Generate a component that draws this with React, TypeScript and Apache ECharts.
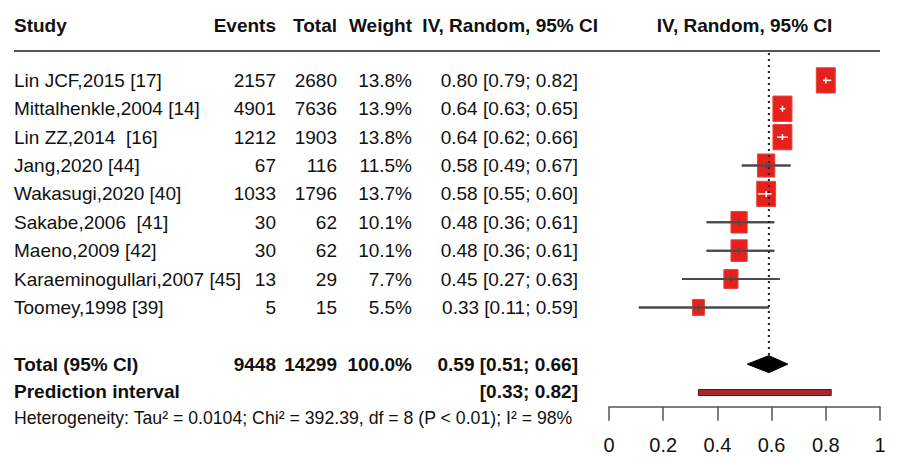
import React, { useEffect, useRef } from "react";
import * as echarts from "echarts";

const studies = [
  "Lin JCF,2015 [17]",
  "Mittalhenkle,2004 [14]",
  "Lin ZZ,2014  [16]",
  "Jang,2020 [44]",
  "Wakasugi,2020 [40]",
  "Sakabe,2006  [41]",
  "Maeno,2009 [42]",
  "Karaeminogullari,2007 [45]",
  "Toomey,1998 [39]",
];
const events = [2157, 4901, 1212, 67, 1033, 30, 30, 13, 5];
const totals = [2680, 7636, 1903, 116, 1796, 62, 62, 29, 15];
const weights = [13.8, 13.9, 13.8, 11.5, 13.7, 10.1, 10.1, 7.7, 5.5];
const estimates = [0.8, 0.64, 0.64, 0.58, 0.58, 0.48, 0.48, 0.45, 0.33];
const lowers = [0.79, 0.63, 0.62, 0.49, 0.55, 0.36, 0.36, 0.27, 0.11];
const uppers = [0.82, 0.65, 0.66, 0.67, 0.6, 0.61, 0.61, 0.63, 0.59];

const pooled = { est: 0.59, lo: 0.51, hi: 0.66, events: 9448, total: 14299, weight: "100.0%" };
const prediction = { lo: 0.33, hi: 0.82 };
const xTicks = [0, 0.2, 0.4, 0.6, 0.8, 1];
const headers = ["Study", "Events", "Total", "Weight", "IV, Random, 95% CI", "IV, Random, 95% CI"];
const heterogeneity = "Heterogeneity: Tau\u00b2 = 0.0104; Chi\u00b2 = 392.39, df = 8 (P < 0.01); I\u00b2 = 98%";

const FONT = "'Liberation Sans', Arial, Helvetica, sans-serif";
const FS = 19;
const TXT = "#111";

const COL_NAME = 14;
const COL_EVENTS = 276;
const COL_TOTAL = 337;
const COL_WEIGHT = 412;
const COL_CI = 578;

const fmt2 = (v: number) => v.toFixed(2);
const ciText = (e: number, l: number, h: number) => `${fmt2(e)} [${fmt2(l)}; ${fmt2(h)}]`;

function txt(x: number, y: number, text: string, align: string, bold = false, size = FS) {
  return {
    type: "text",
    x,
    y,
    style: {
      text,
      fill: TXT,
      fontFamily: FONT,
      fontSize: size,
      fontWeight: bold ? "bold" : "normal",
      align,
      verticalAlign: "middle",
    },
  };
}

export default function App() {
  const ref = useRef<HTMLDivElement>(null);

  useEffect(() => {
    document.body.style.margin = "0";
    if (!ref.current) return;
    const chart = echarts.init(ref.current, null, { renderer: "svg" });

    const studyData = studies.map((_, i) => [estimates[i], i, lowers[i], uppers[i], weights[i]]);

    const option: any = {
      animation: false,
      backgroundColor: "#fff",
      grid: { left: 609, right: 19, top: 52, bottom: 52.3, containLabel: false },
      xAxis: {
        type: "value",
        min: 0,
        max: 1,
        interval: 0.2,
        splitLine: { show: false },
        axisLine: { show: true, onZero: false, lineStyle: { color: "#555", width: 1.5 } },
        axisTick: { show: true, inside: false, length: 14, lineStyle: { color: "#555", width: 1.5 } },
        axisLabel: {
          show: true,
          fontSize: 20,
          color: TXT,
          fontFamily: FONT,
          margin: 28,
          formatter: (v: number) => {
            const t = xTicks.find((k) => Math.abs(k - v) < 1e-9);
            return t === undefined ? "" : String(t);
          },
        },
      },
      yAxis: {
        type: "value",
        inverse: true,
        min: -1,
        max: 11.5,
        show: false,
        splitLine: { show: false },
      },
      graphic: [
        {
          type: "line",
          shape: { x1: 14, y1: 51, x2: 880, y2: 51 },
          style: { stroke: "#555", lineWidth: 2 },
        },
        txt(COL_NAME, 25, headers[0], "left", true),
        txt(COL_EVENTS, 25, headers[1], "right", true),
        txt(COL_TOTAL, 25, headers[2], "right", true),
        txt(COL_WEIGHT, 25, headers[3], "right", true),
        txt(598, 25, headers[4], "right", true),
        txt(744.5, 25, headers[5], "center", true),
        txt(COL_NAME, 418, heterogeneity, "left", false, 17.7),
      ],
      series: [
        {
          type: "custom",
          name: "studies",
          clip: false,
          data: studyData,
          renderItem: (params: any, api: any) => {
            const idx = params.dataIndex;
            const e = api.value(0);
            const i = api.value(1);
            const lo = api.value(2);
            const hi = api.value(3);
            const w = api.value(4);
            const c = api.coord([e, i]);
            const cl = api.coord([lo, i]);
            const ch = api.coord([hi, i]);
            const bw = 5.1 * Math.sqrt(w);
            const bh = 6.8 * Math.sqrt(w);
            const inside = cl[0] >= c[0] - bw / 2 && ch[0] <= c[0] + bw / 2;
            const crossColor = inside ? "#fff" : "#4a4a4a";
            return {
              type: "group",
              children: [
                {
                  type: "line",
                  shape: { x1: cl[0], y1: c[1], x2: ch[0], y2: c[1] },
                  style: { stroke: "#4a4a4a", lineWidth: 2 },
                },
                {
                  type: "rect",
                  shape: { x: c[0] - bw / 2, y: c[1] - bh / 2, width: bw, height: bh },
                  style: { fill: "#e8201b", stroke: "#e5423c", lineWidth: 1 },
                },
                {
                  type: "line",
                  shape: { x1: cl[0], y1: c[1], x2: ch[0], y2: c[1] },
                  style: { stroke: crossColor, lineWidth: inside ? 1.5 : 2 },
                },
                {
                  type: "line",
                  shape: { x1: c[0], y1: c[1] - 3, x2: c[0], y2: c[1] + 3 },
                  style: { stroke: crossColor, lineWidth: 1.5 },
                },
                txt(COL_NAME, c[1], studies[idx], "left"),
                txt(COL_EVENTS, c[1], String(events[idx]), "right"),
                txt(COL_TOTAL, c[1], String(totals[idx]), "right"),
                txt(COL_WEIGHT, c[1], weights[idx].toFixed(1) + "%", "right"),
                txt(COL_CI, c[1], ciText(estimates[idx], lowers[idx], uppers[idx]), "right"),
              ],
            };
          },
        },
        {
          type: "custom",
          name: "pooled",
          clip: false,
          data: [[pooled.est, 10, pooled.lo, pooled.hi]],
          renderItem: (params: any, api: any) => {
            const e = api.value(0);
            const i = api.value(1);
            const c = api.coord([e, i]);
            const cl = api.coord([api.value(2), i]);
            const ch = api.coord([api.value(3), i]);
            const top = api.coord([e, -1]);
            const h = 8.5;
            return {
              type: "group",
              children: [
                {
                  type: "line",
                  shape: { x1: c[0], y1: top[1] + 1, x2: c[0], y2: c[1] - h },
                  style: { stroke: "#222", lineWidth: 2, lineDash: [2, 4] },
                },
                {
                  type: "polygon",
                  shape: { points: [[cl[0], c[1]], [c[0], c[1] - h], [ch[0], c[1]], [c[0], c[1] + h]] },
                  style: { fill: "#000", stroke: "#000", lineWidth: 1 },
                },
                txt(COL_NAME, c[1], "Total (95% CI)", "left", true),
                txt(COL_EVENTS, c[1], String(pooled.events), "right", true),
                txt(COL_TOTAL, c[1], String(pooled.total), "right", true),
                txt(COL_WEIGHT, c[1], pooled.weight, "right", true),
                txt(COL_CI, c[1], ciText(pooled.est, pooled.lo, pooled.hi), "right", true),
              ],
            };
          },
        },
        {
          type: "custom",
          name: "prediction",
          clip: false,
          data: [[prediction.lo, 11, prediction.hi]],
          renderItem: (params: any, api: any) => {
            const i = api.value(1);
            const a = api.coord([api.value(0), i]);
            const b = api.coord([api.value(2), i]);
            const h = 6;
            return {
              type: "group",
              children: [
                {
                  type: "rect",
                  shape: { x: a[0], y: a[1] - h / 2, width: b[0] - a[0], height: h },
                  style: { fill: "#a82828", stroke: "#5a1414", lineWidth: 1 },
                },
                txt(COL_NAME, a[1] - 1, "Prediction interval", "left", true),
                txt(COL_CI, a[1] - 1, `[${fmt2(prediction.lo)}; ${fmt2(prediction.hi)}]`, "right", true),
              ],
            };
          },
        },
      ],
    };

    chart.setOption(option);
    return () => chart.dispose();
  }, []);

  return <div ref={ref} style={{ width: 899, height: 459 }} />;
}
